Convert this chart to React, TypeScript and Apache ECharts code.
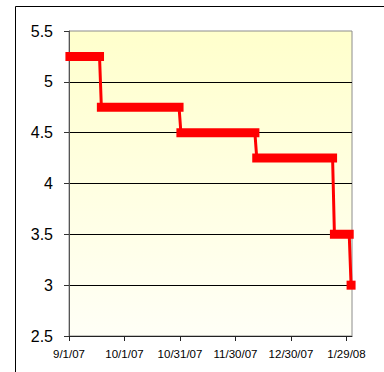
import React, { useEffect, useRef } from "react";
import * as echarts from "echarts";

// Step periods of the rate (start day, end day, rate)
const segStart = ["2007-09-01", "2007-09-18", "2007-10-31", "2007-12-11", "2008-01-22", "2008-01-31"];
const segEnd = ["2007-09-17", "2007-10-30", "2007-12-10", "2008-01-21", "2008-01-30", "2008-01-31"];
const rates = [5.25, 4.75, 4.5, 4.25, 3.5, 3.0];

// X axis
const xStartDate = "2007-09-01";
const xEndDate = "2008-02-01";
const tickDates = ["2007-09-01", "2007-10-01", "2007-10-31", "2007-11-30", "2007-12-30", "2008-01-29"];
const tickLabels = ["9/1/07", "10/1/07", "10/31/07", "11/30/07", "12/30/07", "1/29/08"];

// Y axis
const yMin = 2.5;
const yMax = 5.5;
const yStep = 0.5;

const FONT = "'Liberation Sans', Arial, sans-serif";

function dayOf(s: string): number {
  return Math.round((Date.parse(s + "T00:00:00Z") - Date.parse(xStartDate + "T00:00:00Z")) / 86400000);
}

export default function App() {
  const ref = useRef<HTMLDivElement>(null);

  useEffect(() => {
    if (!ref.current) return;
    const chart = echarts.init(ref.current, null, { renderer: "svg" });

    // thin connecting line through all step end points (points centred in day bins)
    const thinData: number[][] = [];
    rates.forEach((r, i) => {
      thinData.push([dayOf(segStart[i]) + 0.5, r]);
      thinData.push([dayOf(segEnd[i]) + 0.5, r]);
    });

    const tickValues = tickDates.map(dayOf);

    const segs = rates.map((r, i) => ({ r, s: dayOf(segStart[i]) + 0.5, e: dayOf(segEnd[i]) + 0.5 }));

    const thickSeries = segs
      .filter((d) => d.e > d.s)
      .map((d) => ({
        type: "line",
        data: [
          [d.s, d.r],
          [d.e, d.r],
        ],
        symbol: "none",
        showSymbol: false,
        lineStyle: { color: "#FF0000", width: 9, cap: "square", opacity: 1 },
        z: 4,
        silent: true,
      }));

    const singlePoints = segs.filter((d) => d.e === d.s).map((d) => [d.s, d.r]);

    const option: any = {
      animation: false,
      backgroundColor: "#FFFFFF",
      textStyle: { fontFamily: FONT },
      grid: {
        left: 69,
        right: 32,
        top: 31,
        bottom: 36,
        show: true,
        backgroundColor: new echarts.graphic.LinearGradient(0, 0, 0, 1, [
          { offset: 0, color: "#FFFFCC" },
          { offset: 1, color: "#FFFFF6" },
        ]),
        borderColor: "#8C8C8C",
        borderWidth: 1,
      },
      graphic: [
        {
          type: "rect",
          shape: { x: 15.5, y: 6.5, width: 600, height: 600 },
          style: { fill: "none", stroke: "#000000", lineWidth: 1 },
          silent: true,
        },
      ],
      xAxis: {
        type: "value",
        min: dayOf(xStartDate),
        max: dayOf(xEndDate),
        axisLine: { show: true, onZero: false, lineStyle: { color: "#222222", width: 1 } },
        axisTick: {
          show: true,
          length: 5,
          customValues: tickValues,
          lineStyle: { color: "#222222" },
        },
        axisLabel: {
          customValues: tickValues,
          formatter: (v: number) => {
            const idx = tickValues.indexOf(Math.round(v));
            return idx >= 0 ? tickLabels[idx] : "";
          },
          color: "#000000",
          fontFamily: FONT,
          fontSize: 11.5,
          margin: 12,
        },
        splitLine: { show: false },
      },
      yAxis: {
        type: "value",
        min: yMin,
        max: yMax,
        interval: yStep,
        axisLine: { show: true, lineStyle: { color: "#555555", width: 1 } },
        axisTick: { show: true, length: 5, lineStyle: { color: "#333333" } },
        axisLabel: {
          color: "#000000",
          fontFamily: FONT,
          fontSize: 16,
          margin: 16,
        },
        splitLine: {
          show: true,
          showMinLine: false,
          showMaxLine: false,
          lineStyle: { color: "#000000", width: 1 },
        },
      },
      series: [
        {
          type: "line",
          data: thinData,
          showSymbol: false,
          symbol: "none",
          lineStyle: { color: "#FF0000", width: 3, opacity: 1 },
          z: 3,
          silent: true,
        },
        ...thickSeries,
        {
          type: "scatter",
          data: singlePoints,
          symbol: "rect",
          symbolSize: 9,
          itemStyle: { color: "#FF0000", borderWidth: 0, opacity: 1 },
          z: 5,
          silent: true,
        },
      ],
    };

    chart.setOption(option);
    return () => chart.dispose();
  }, []);

  return (
    <div
      ref={ref}
      style={{ position: "absolute", left: 0, top: 0, width: 384, height: 372 }}
    />
  );
}
